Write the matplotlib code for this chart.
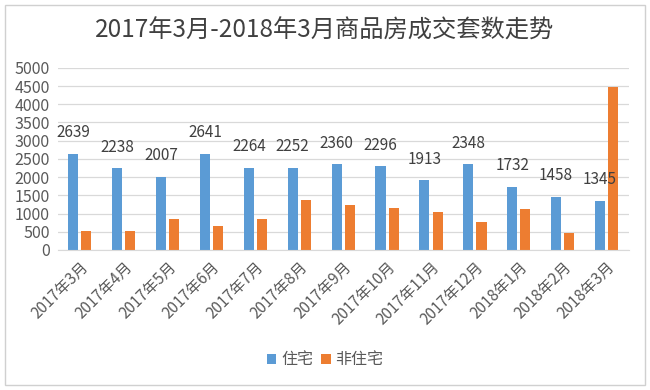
import matplotlib.pyplot as plt
import numpy as np
from matplotlib.patches import Rectangle

plt.rcParams['font.family'] = ['Noto Sans CJK SC', 'DejaVu Sans']

months = ['2017年3月', '2017年4月', '2017年5月', '2017年6月', '2017年7月', '2017年8月',
          '2017年9月', '2017年10月', '2017年11月', '2017年12月', '2018年1月', '2018年2月',
          '2018年3月']
zhuzhai = [2639, 2238, 2007, 2641, 2264, 2252, 2360, 2296, 1913, 2348, 1732, 1458, 1345]
fei_zhuzhai = [520, 520, 850, 670, 850, 1380, 1240, 1150, 1040, 780, 1120, 460, 4470]

blue = '#5B9BD5'
orange = '#ED7D31'
txt = '#595959'

fig = plt.figure(figsize=(6.5, 3.9), dpi=100)
ax = fig.add_axes([0.089, 0.359, 0.878, 0.467])

x = np.arange(len(months))
w = 0.23
ax.bar(x - 0.15, zhuzhai, w, color=blue, label='住宅')
ax.bar(x + 0.15, fei_zhuzhai, w, color=orange, label='非住宅')

for i, v in enumerate(zhuzhai):
    ax.annotate(str(v), (x[i] - 0.15, v), xytext=(0, 9), textcoords='offset points',
                ha='center', va='bottom', fontsize=11, color='#404040')

ax.set_ylim(0, 5000)
ax.set_xlim(-0.5, len(months) - 0.5)
ax.set_yticks(np.arange(0, 5001, 500))
ax.yaxis.grid(True, color='#D9D9D9', linewidth=0.9)
ax.set_axisbelow(True)
for s in ['top', 'right', 'left']:
    ax.spines[s].set_visible(False)
ax.spines['bottom'].set_color('#D9D9D9')
ax.tick_params(axis='y', length=0, labelsize=11.5, colors=txt, pad=6)
ax.set_xticks(x)
ax.set_xticklabels(months, rotation=45, ha='right', rotation_mode='anchor',
                   fontsize=11, color=txt)
ax.tick_params(axis='x', length=0, pad=6)

fig.text(0.5, 0.922, '2017年3月-2018年3月商品房成交套数走势', ha='center', va='center',
         fontsize=17.5, color='#404040')

fig.legend(loc='center', bbox_to_anchor=(0.5, 0.077), ncol=2, frameon=False,
           fontsize=11.5, handlelength=0.6, handleheight=0.6, columnspacing=0.5,
           handletextpad=0.3, labelcolor=txt)

fig.patches.append(Rectangle((0.008, 0.012), 0.984, 0.976, transform=fig.transFigure,
                             fill=False, edgecolor='#D0D0D0', linewidth=1))

fig.savefig('out.png', dpi=100, facecolor='white')
